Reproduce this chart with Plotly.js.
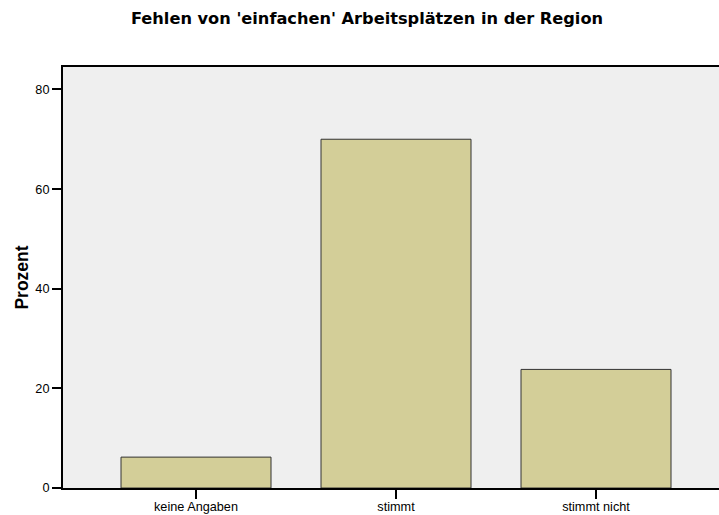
<!DOCTYPE html>
<html>
<head>
<meta charset="utf-8">
<script src="https://cdn.plot.ly/plotly-3.0.1.min.js"></script>
<style>html,body{margin:0;padding:0;background:#fff;overflow:hidden;}</style>
</head>
<body>
<div style="width:719px;height:515px;overflow:hidden;position:relative;">
<div id="chart" style="width:760px;height:515px;"></div>
</div>
<script>
var categories = ["keine Angaben", "stimmt", "stimmt nicht"];
var percentValues = [6.2, 70.0, 23.8];
var yTickValues = [0, 20, 40, 60, 80];
var yTickLabels = ["0", "20", "40", "60", "80"];

var trace = {
  type: "bar",
  x: categories,
  y: percentValues,
  marker: {color: "#d3ce98", line: {color: "#333333", width: 1}},
  hoverinfo: "x+y"
};

var layout = {
  width: 760,
  height: 515,
  paper_bgcolor: "#ffffff",
  plot_bgcolor: "#efefef",
  margin: {l: 63, r: 0, t: 67, b: 27, autoexpand: false},
  bargap: 0.25,
  showlegend: false,
  font: {family: "Liberation Sans, Arial, sans-serif", color: "#000000"},
  title: {
    text: "<b>Fehlen von 'einfachen' Arbeitsplätzen in der Region</b>",
    font: {size: 16.2, family: "DejaVu Sans, sans-serif", color: "#000"},
    xref: "container", x: 367 / 760, xanchor: "center",
    yref: "container", y: 1 - 18 / 515, yanchor: "middle"
  },
  xaxis: {
    type: "category",
    range: [-0.665, 2.82],
    showline: true, linecolor: "#000", linewidth: 2, mirror: true,
    ticks: "outside", ticklen: 9, tickwidth: 2, tickcolor: "#000",
    tickfont: {size: 12.7},
    ticklabelstandoff: -3,
    showgrid: false, zeroline: false, automargin: false
  },
  yaxis: {
    range: [0, 84.5],
    tickvals: yTickValues, ticktext: yTickLabels,
    showline: true, linecolor: "#000", linewidth: 2,
    ticks: "outside", ticklen: 9, tickwidth: 2, tickcolor: "#000",
    tickfont: {size: 12.7},
    showgrid: false, zeroline: false, automargin: false,
    title: {text: "<b>Prozent</b>", font: {size: 17.5}, standoff: 2}
  }
};

Plotly.newPlot("chart", [trace], layout, {displayModeBar: false, staticPlot: true});
</script>
</body>
</html>
